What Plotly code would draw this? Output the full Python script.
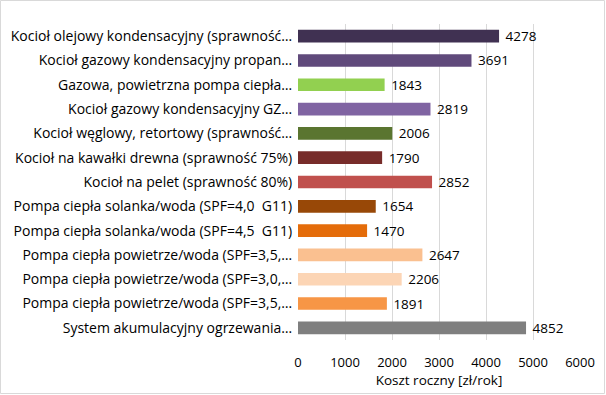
import plotly.graph_objects as go

categories = [
    "Kocioł olejowy kondensacyjny (sprawność…",
    "Kocioł gazowy kondensacyjny propan…",
    "Gazowa, powietrzna pompa ciepła…",
    "Kocioł gazowy kondensacyjny GZ…",
    "Kocioł węglowy, retortowy (sprawność…",
    "Kocioł na kawałki drewna (sprawność 75%)",
    "Kocioł na pelet (sprawność 80%)",
    "Pompa ciepła solanka/woda (SPF=4,0  G11)",
    "Pompa ciepła solanka/woda (SPF=4,5  G11)",
    "Pompa ciepła powietrze/woda (SPF=3,5,…",
    "Pompa ciepła powietrze/woda (SPF=3,0,…",
    "Pompa ciepła powietrze/woda (SPF=3,5,…",
    "System akumulacyjny ogrzewania…",
]
values = [4278, 3691, 1843, 2819, 2006, 1790, 2852, 1654, 1470, 2647, 2206, 1891, 4852]
colors = ["#403152", "#604A7B", "#92D050", "#8064A2", "#5A7530", "#772C2A", "#C0504D",
          "#984807", "#E46C0A", "#FAC090", "#FCD5B5", "#F79646", "#7F7F7F"]
x_ticks = [0, 1000, 2000, 3000, 4000, 5000, 6000]
x_title = "Koszt roczny [zł/rok]"

ykeys = list(range(len(categories)))

L, R, T, B = 298, 26, 24, 55
W, H = 606, 395
pw, ph = W - L - R, H - T - B

fig = go.Figure(go.Bar(
    y=ykeys, x=values, orientation="h",
    marker=dict(color=colors, line=dict(width=0)),
    width=0.52,
    text=["\u00a0" + str(v) for v in values], textposition="outside",
    constraintext="none",
    textfont=dict(size=13.5, color="#000000", family="Open Sans"),
    cliponaxis=False,
    hoverinfo="skip",
))
fig.update_layout(
    width=W, height=H,
    margin=dict(l=L, r=R, t=T, b=B, autoexpand=False),
    paper_bgcolor="white", plot_bgcolor="white",
    font=dict(family="Open Sans", color="#000000"),
    showlegend=False,
    xaxis=dict(range=[0, 6000], tickvals=x_ticks, showgrid=True, gridcolor="#D9D9D9",
               gridwidth=1, zeroline=False, showline=False, ticks="outside", ticklen=10,
               tickcolor="rgba(0,0,0,0)", automargin=False,
               tickfont=dict(size=13, color="#000000"),
               title=dict(text=x_title, font=dict(size=13.5, color="#000000"), standoff=5)),
    yaxis=dict(tickvals=ykeys, ticktext=categories, autorange="reversed",
               showgrid=False, zeroline=False, showline=False,
               ticks="outside", ticklen=2, tickcolor="rgba(0,0,0,0)", automargin=False,
               tickfont=dict(size=14, color="#000000")),
    shapes=[dict(type="rect", xref="paper", yref="paper",
                 x0=(-L + 0.5) / pw, x1=1 + (R - 1.5) / pw,
                 y0=(-B + 1.5) / ph, y1=1 + (T - 0.5) / ph,
                 line=dict(color="#D9D9D9", width=1))],
)
fig.write_html("out.html", config={"displayModeBar": False},
               post_script="document.body.style.margin='0px';document.body.style.overflow='hidden';")
